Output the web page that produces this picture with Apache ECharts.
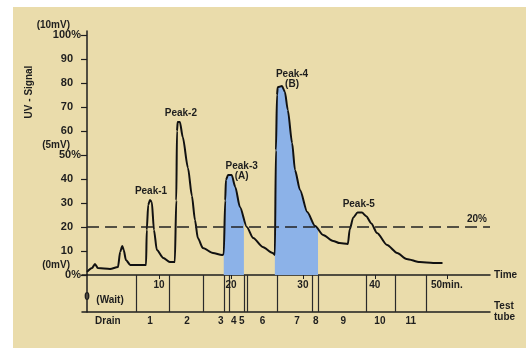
<!DOCTYPE html>
<html><head><meta charset="utf-8">
<script src="https://cdn.jsdelivr.net/npm/echarts@6/dist/echarts.min.js"></script>
<style>html,body{margin:0;padding:0;background:#fff}#c{width:530px;height:348px}</style>
</head><body><div id="c"></div>
<script>
// ---- data ----
const timeMin = [0,0.7,1.1,1.5,3.2,4.3,4.6,4.9,5.1,5.4,6.0,8.2,8.3,8.5,8.75,9.0,9.3,9.7,10.6,11.5,12.2,12.4,12.5,12.6,12.9,13.3,14.03,14.58,15.0,15.4,16.1,17.5,18.75,19.0,19.2,19.3,19.6,20.1,20.6,21.25,22.2,23.1,24.4,25.8,26.1,26.25,26.4,26.5,27.1,27.5,27.9,28.5,28.9,29.6,30.6,31.7,32.8,34.2,35.1,36.25,36.5,37.0,37.6,38.2,38.8,39.5,40.3,41.7,43.1,44.4,46.25,48.1,49.4];
const uvSignal = [1.3,2.9,4.6,2.9,2.5,3.3,9.6,12.1,10.4,6.3,4.2,4.2,18.8,29.2,31.3,30.4,18.8,10.4,7.1,5.4,5.4,31,60,63.8,63.8,57.5,44.6,32.9,22.9,15.4,11.25,9.2,8.3,8.7,31,39.6,41.7,41.7,36.7,28.3,20,15.4,11.7,9.2,8.3,52,75,78.3,78.75,76.3,68.75,55,43.75,35.4,26.25,20.4,16.7,14.2,13.3,12.9,19,24,26,26,24.5,21.5,17.5,12.5,9.2,6.7,5.4,5.0,5.0];
const fillRanges = [[19.0, 21.8], [26.1, 32.1]];
const fillEndValues = [22.8, 19.2];
const thresholdLevel = 20;
const peakNames = ['Peak-1','Peak-2','Peak-3\n(A)','Peak-4\n(B)','Peak-5'];
const peakTimes = [8.75, 12.9, 20.1, 27.1, 37.9];
const peakValues = [31.3, 63.8, 41.7, 78.75, 26];
const yTicks = [0,10,20,30,40,50,60,70,80,90,100];
const mvLabels = {100:'(10mV)', 50:'(5mV)', 0:'(0mV)'};
const timeTicks = [10,20,30,40,50];
const timeLabels = [0,10,20,30,40,50];
const tubeBounds = [6.8,11.4,16.1,19.0,19.7,21.8,22.2,26.4,31.25,32.1,38.75,42.9,47.2];
const tubeLabelAt = [2.9,8.75,13.9,18.6,20.4,21.5,24.4,29.2,31.8,35.6,40.7,45.0];
const tubeNames = ['Drain','1','2','3','4','5','6','7','8','9','10','11'];
const waitAt = [3.2, 0.32];

// ---- build ----
const curve = timeMin.map((t,i)=>[t, uvSignal[i]]);
const fills = fillRanges.map((r,k)=>{
  const pts = curve.filter(p=>p[0]>=r[0] && p[0]<=r[1]);
  pts.push([r[1], fillEndValues[k]]);
  return pts;
});
const FONT = "'Liberation Sans', Arial, sans-serif";
const INK = '#1e1e1e';
const txt = {fontFamily: FONT, fontWeight: 'bold', color: INK};
const SMOOTH = 0.25;

const chart = echarts.init(document.getElementById('c'), null, {renderer:'canvas'});
const fillSeries = fills.map(d=>({
  type:'line', data:d, xAxisIndex:0, yAxisIndex:0, symbol:'none',
  smooth:SMOOTH, smoothMonotone:'x', lineStyle:{width:0}, z:1, silent:true,
  areaStyle:{color:'#8cb2e8', opacity:1}
}));
chart.setOption({
  animation:false,
  backgroundColor:'transparent',
  graphic:[
    {type:'rect', z:-10, silent:true, shape:{x:13,y:7,width:513,height:341}, style:{fill:'#eadcab'}},
    {type:'text', x:29, y:92, rotation:Math.PI/2, silent:true,
     style:{text:'UV - Signal', fill:INK, font:"bold 10px 'Liberation Sans', Arial, sans-serif", align:'center', verticalAlign:'middle'}}
  ],
  grid:[
    {left:82, right:40, top:31, height:244, containLabel:false},
    {left:82, right:40, top:275, height:37, containLabel:false}
  ],
  xAxis:[{
    gridIndex:0, type:'value', min:-0.7, max:56, position:'bottom',
    axisLine:{show:true, onZero:false, lineStyle:{color:INK, width:1.5}},
    splitLine:{show:false},
    axisTick:{show:true, customValues:timeTicks, length:4, lineStyle:{color:INK, width:1}},
    axisLabel:{customValues:timeLabels, margin:5, fontSize:10, ...txt,
      formatter:v=> v===0 ? '{z|0}' : (v===50 ? '50min.' : String(v)),
      rich:{z:{padding:[12,0,0,0], fontSize:10, ...txt}}},
    name:'Time', nameLocation:'end', nameGap:4,
    nameTextStyle:{fontSize:10, ...txt}
  },{
    gridIndex:1, type:'value', min:-0.7, max:56, position:'bottom',
    axisLine:{show:true, onZero:false, lineStyle:{color:INK, width:1.5}},
    splitLine:{show:false},
    axisTick:{show:true, customValues:tubeBounds, inside:true, length:37, lineStyle:{color:'#2a2a2a', width:1.2}},
    axisLabel:{customValues:tubeLabelAt, margin:4, fontSize:10, ...txt,
      formatter:v=>{let b=0;tubeLabelAt.forEach((x,i)=>{if(Math.abs(x-v)<Math.abs(tubeLabelAt[b]-v))b=i;});return tubeNames[b];}},
    name:'Test\ntube', nameLocation:'end', nameGap:4,
    nameTextStyle:{fontSize:10, lineHeight:11, ...txt}
  }],
  yAxis:[{
    gridIndex:0, type:'value', min:0, max:101.7,
    axisLine:{show:true, onZero:true, onZeroAxisIndex:0, lineStyle:{color:INK, width:1.5}},
    splitLine:{show:false},
    axisTick:{show:true, customValues:yTicks, length:6, lineStyle:{color:INK, width:1.2}},
    axisLabel:{customValues:yTicks, margin:1, fontSize:11, ...txt,
      formatter:v=> mvLabels[v] ? `{mv|${mvLabels[v]}}\n{p|${v}%}\n{e| }` : `{n|${v}}`,
      rich:{
        mv:{fontSize:10, lineHeight:10, padding:[0,11,0,0], align:'right', ...txt},
        p:{fontSize:11, lineHeight:10, align:'right', ...txt},
        e:{fontSize:10, lineHeight:10, align:'right'},
        n:{fontSize:11, padding:[0,8,0,0], align:'right', ...txt}
      }}
  },{
    gridIndex:1, type:'value', min:0, max:1,
    axisLine:{show:true, onZero:true, onZeroAxisIndex:1, lineStyle:{color:INK, width:1.5}},
    splitLine:{show:false}, axisTick:{show:false}, axisLabel:{show:false}
  }],
  series:[
    ...fillSeries,
    {
      type:'line', data:curve, xAxisIndex:0, yAxisIndex:0, symbol:'none',
      smooth:SMOOTH, smoothMonotone:'x', z:3,
      lineStyle:{color:'#111', width:2},
      markLine:{
        silent:true, symbol:'none',
        lineStyle:{type:[12,6], color:'#222', width:1.5},
        label:{show:true, position:'insideEndTop', formatter:thresholdLevel+'%', fontSize:10, distance:3, ...txt},
        data:[[{coord:[0,thresholdLevel]},{coord:[56,thresholdLevel]}]]
      },
      markPoint:{
        silent:true, symbol:'rect', symbolSize:1, itemStyle:{color:'rgba(0,0,0,0)'},
        label:{show:true, position:'inside', fontSize:10, lineHeight:10, ...txt},
        data: peakNames.map((n,i)=>({coord:[peakTimes[i],peakValues[i]], value:n,
            label:{formatter:n, offset:[[1,-9],[1,-9],[10,-4],[10,-7],[-1,-8]][i]}}))
      }
    },
    {
      type:'scatter', xAxisIndex:1, yAxisIndex:1, data:[waitAt], symbol:'rect', symbolSize:1,
      itemStyle:{color:'rgba(0,0,0,0)', opacity:1}, silent:true,
      label:{show:true, position:'inside', formatter:'(Wait)', fontSize:10, opacity:1, ...txt}
    }
  ]
});
</script></body></html>
